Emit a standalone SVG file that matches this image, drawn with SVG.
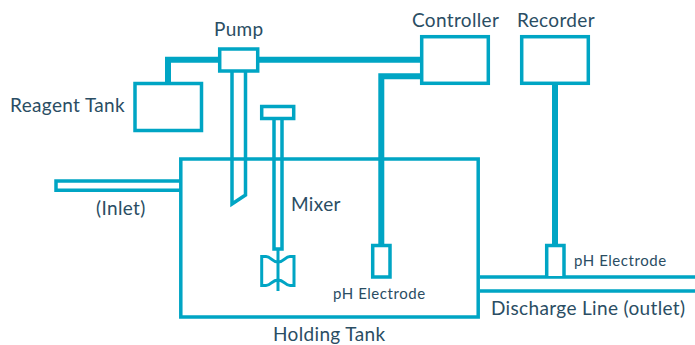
<svg xmlns="http://www.w3.org/2000/svg" width="695" height="345" viewBox="0 0 695 345">
<style>
.s{fill:none;stroke:#00a5c4;stroke-width:3.5}
.b{fill:#fff;stroke:#00a5c4;stroke-width:3.5}
.w{fill:none;stroke:#00a5c4;stroke-width:6}
.i{fill:none;stroke:#00a5c4;stroke-width:3}
text{font-family:Lato,"Open Sans",sans-serif;fill:#2a4d63}
.l{font-size:19px;letter-spacing:.35px}
.m{font-size:15px;letter-spacing:.55px}
</style>
<rect width="695" height="345" fill="#fff"/>
<g id="connectors">
<path class="w" d="M168 83V59.700H220M257 59.700H421"/>
<path class="w" d="M421 76.300H381.300V245"/>
<path class="w" d="M555 85V245"/>
<path class="s" d="M480 277H695M480 291H695"/>
</g>
<g id="holding-tank"><rect class="s" x="180.800" y="159" width="297.400" height="158"/><text class="l" x="273" y="340.500">Holding Tank</text></g>
<g id="inlet"><path class="s" d="M180 181H56V190.200H180"/><text class="l" x="96" y="215">(Inlet)</text></g>
<g id="reagent-tank"><rect class="b" x="135" y="83.500" width="66.500" height="47"/><text class="l" x="10" y="112">Reagent Tank</text></g>
<g id="pump"><path class="s" d="M232 71V204L245.500 195V71"/><rect class="b" x="219.700" y="49" width="38" height="22"/><text class="l" x="214" y="36">Pump</text></g>
<g id="mixer"><path class="s" d="M274 119V249H282V119"/><rect class="b" x="261.700" y="106.500" width="32" height="12"/>
<path class="i" d="M278 250V291"/>
<path class="i" d="M261.700 256.500V285.500H266C271 285.500 272 280 278 280C284 280 285 285.500 290 285.500H294V256.500H290C285 256.500 284 262 278 262C272 262 271 256.500 266 256.500Z"/>
<text class="l" x="291" y="211">Mixer</text></g>
<g id="controller"><rect class="b" x="421.700" y="36.700" width="66.600" height="46.600"/><text class="l" x="412" y="27">Controller</text></g>
<g id="recorder"><rect class="b" x="521.700" y="36.700" width="66.600" height="46.600"/><text class="l" x="517" y="27">Recorder</text></g>
<g id="ph-electrode-1"><rect class="b" x="372.700" y="245.500" width="17.300" height="31.500"/><text class="m" x="333" y="299">pH Electrode</text></g>
<g id="ph-electrode-2"><path class="b" d="M546.700 276V245.500H564V276"/><text class="m" x="574" y="266">pH Electrode</text></g>
<g id="discharge-label"><text class="l" x="491" y="315">Discharge Line (outlet)</text></g>
</svg>
